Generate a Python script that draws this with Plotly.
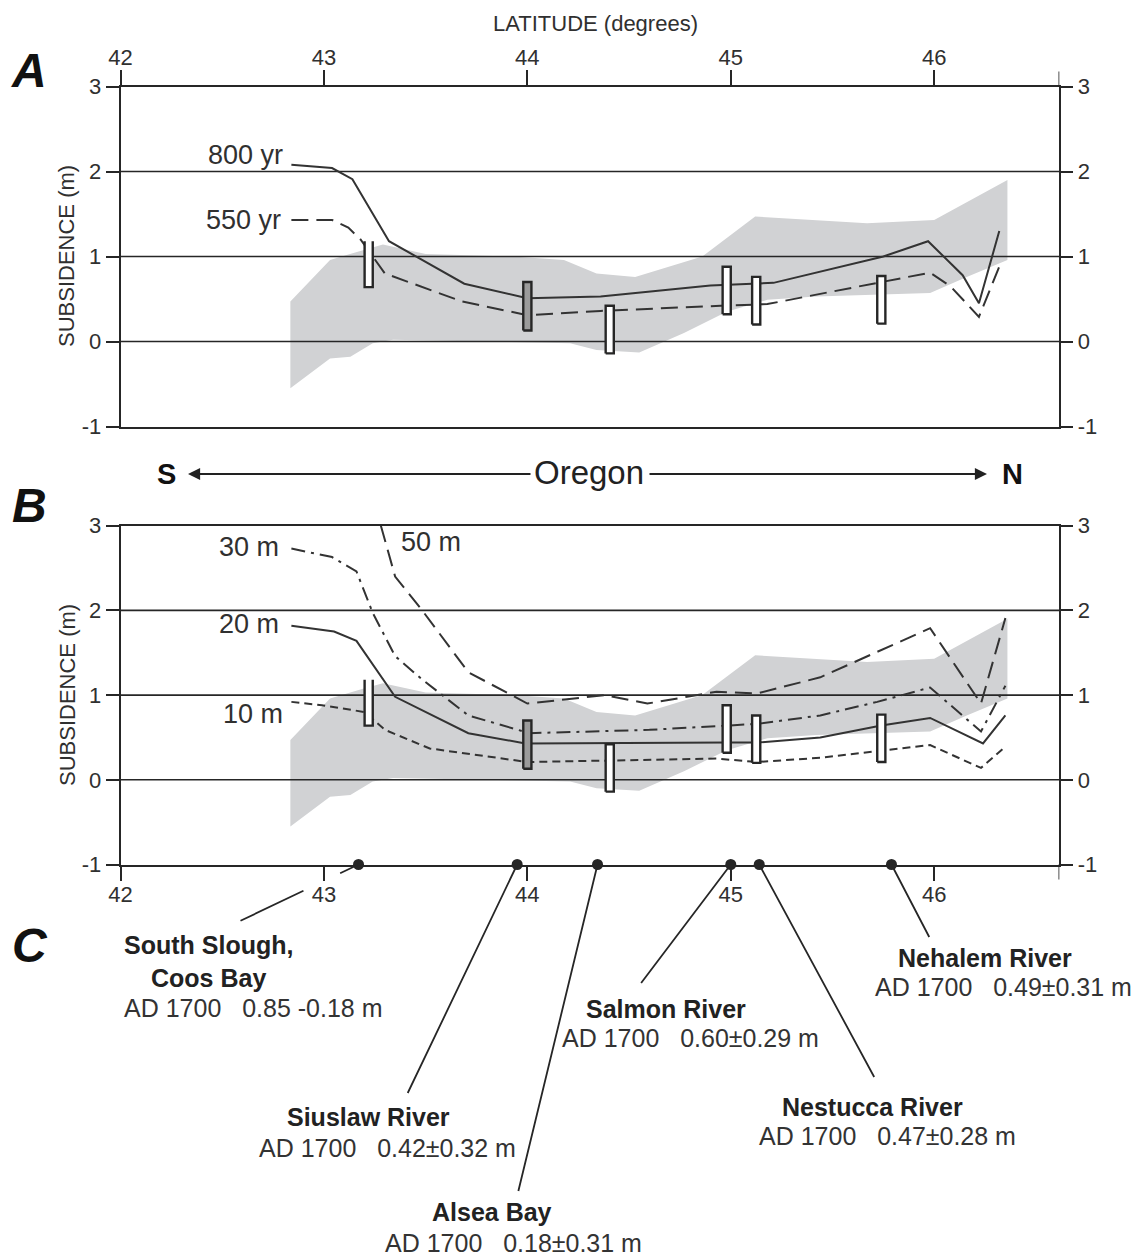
import plotly.graph_objects as go

W, H = 1141, 1260

# ======================= DATA =======================
lat_ticks = [42, 43, 44, 45, 46]
sub_ticks = [-1, 0, 1, 2, 3]
sub_tick_labels = ["-1", "0", "1", "2", "3"]
lat_range = [42, 46.615]
sub_range = [-1, 3]

# grey envelope (same in A and B)
band_upper_lat = [42.835, 43.03, 43.2, 43.29, 43.5, 43.93, 44.18, 44.34, 44.53, 44.86, 45.12, 45.67, 46.0, 46.36]
band_upper_sub = [0.47, 0.96, 1.08, 1.14, 1.03, 1.0, 0.96, 0.8, 0.76, 1.0, 1.47, 1.39, 1.43, 1.9]
band_lower_lat = [42.835, 43.03, 43.13, 43.24, 43.34, 44.21, 44.34, 44.55, 44.77, 44.98, 45.18, 45.42, 45.98, 46.16, 46.36]
band_lower_sub = [-0.55, -0.2, -0.18, -0.02, 0.02, -0.02, -0.1, -0.13, 0.1, 0.35, 0.49, 0.53, 0.57, 0.76, 0.96]

# Panel A curves
lat_800 = [42.84, 43.04, 43.14, 43.32, 43.69, 44.0, 44.36, 44.9, 45.21, 45.75, 45.97, 46.14, 46.22, 46.32]
sub_800 = [2.08, 2.04, 1.91, 1.18, 0.68, 0.51, 0.53, 0.66, 0.69, 1.0, 1.18, 0.78, 0.45, 1.30]
lat_550 = [42.84, 43.04, 43.12, 43.18, 43.3, 43.68, 44.0, 44.36, 44.95, 45.18, 45.98, 46.08, 46.22, 46.33]
sub_550 = [1.43, 1.43, 1.34, 1.2, 0.8, 0.47, 0.31, 0.36, 0.42, 0.44, 0.81, 0.65, 0.29, 0.94]

# Panel B curves
lat_50m = [43.28, 43.35, 43.48, 43.71, 44.0, 44.38, 44.59, 44.93, 45.13, 45.44, 45.98, 46.23, 46.35]
sub_50m = [3.0, 2.4, 2.01, 1.27, 0.9, 1.0, 0.9, 1.04, 1.02, 1.21, 1.79, 0.9, 1.91]
lat_30m = [42.84, 43.04, 43.16, 43.24, 43.35, 43.48, 43.71, 44.01, 44.6, 45.13, 45.44, 45.72, 45.98, 46.23, 46.35]
sub_30m = [2.73, 2.63, 2.46, 1.97, 1.46, 1.19, 0.76, 0.55, 0.59, 0.66, 0.76, 0.92, 1.09, 0.57, 1.11]
lat_20m = [42.84, 43.05, 43.16, 43.35, 43.71, 43.99, 44.98, 45.13, 45.44, 45.74, 45.98, 46.24, 46.35]
sub_20m = [1.82, 1.75, 1.64, 0.98, 0.55, 0.43, 0.44, 0.44, 0.5, 0.64, 0.73, 0.43, 0.76]
lat_10m = [42.84, 42.99, 43.2, 43.3, 43.52, 44.0, 44.93, 45.13, 45.44, 45.73, 45.98, 46.23, 46.35]
sub_10m = [0.92, 0.88, 0.8, 0.59, 0.37, 0.21, 0.25, 0.21, 0.26, 0.34, 0.41, 0.14, 0.39]

# AD 1700 sites
site_names = ["South Slough,\nCoos Bay", "Siuslaw River", "Alsea Bay",
              "Salmon River", "Nestucca River", "Nehalem River"]
site_age = ["AD 1700", "AD 1700", "AD 1700", "AD 1700", "AD 1700", "AD 1700"]
site_value = ["0.85 -0.18 m", "0.42±0.32 m", "0.18±0.31 m",
              "0.60±0.29 m", "0.47±0.28 m", "0.49±0.31 m"]
site_lat = [43.17, 43.95, 44.345, 45.0, 45.14, 45.79]
bar_lat = [43.22, 44.0, 44.405, 44.98, 45.125, 45.74]
bar_low = [0.64, 0.13, -0.14, 0.32, 0.20, 0.21]
bar_high = [1.18, 0.70, 0.42, 0.88, 0.76, 0.77]
bar_open_top = [True, False, False, False, False, False]

# ======================= STYLE / LAYOUT =======================
FONT = "Liberation Sans, Arial, Helvetica, sans-serif"
INK = "#262626"
TXT = "#303030"
BAND = "#d1d2d4"
bar_fill = ["white", "#9b9b9b", "white", "white", "white", "white"]
BAR_HALF = 0.02

def px(x):
    return x / W

def py(y):
    return 1 - y / H

XD = [px(120.5), px(1059.3)]
YA = [py(426.5), py(86.5)]
YB = [py(864.5), py(525.7)]

fig = go.Figure()


def add_panel(xa, ya, curves):
    # envelope
    fig.add_trace(go.Scatter(
        x=band_upper_lat + band_lower_lat[::-1],
        y=band_upper_sub + band_lower_sub[::-1],
        xaxis=xa, yaxis=ya, mode="lines", fill="toself",
        fillcolor=BAND, line=dict(width=0), hoverinfo="skip"))
    # interior horizontal rules
    for v in sub_ticks:
        if sub_range[0] < v < sub_range[1]:
            fig.add_trace(go.Scatter(
                x=lat_range, y=[v, v], xaxis=xa, yaxis=ya, mode="lines",
                line=dict(color=INK, width=1.6), hoverinfo="skip"))
    # model curves
    for lat, sub, dash in curves:
        fig.add_trace(go.Scatter(
            x=lat, y=sub, xaxis=xa, yaxis=ya, mode="lines",
            line=dict(color="#333333", width=2.0, dash=dash),
            hoverinfo="skip"))
    # observation bars
    for lat, lo, hi, op, fc in zip(bar_lat, bar_low, bar_high, bar_open_top, bar_fill):
        if op:
            xs = [lat - BAR_HALF, lat - BAR_HALF, lat + BAR_HALF, lat + BAR_HALF]
            ys = [hi, lo, lo, hi]
        else:
            xs = [lat - BAR_HALF, lat - BAR_HALF, lat + BAR_HALF, lat + BAR_HALF, lat - BAR_HALF]
            ys = [lo, hi, hi, lo, lo]
        fig.add_trace(go.Scatter(
            x=xs, y=ys, xaxis=xa, yaxis=ya, mode="lines", fill="toself",
            fillcolor=fc, line=dict(color=INK, width=2.4), hoverinfo="skip"))


add_panel("x", "y", [(lat_800, sub_800, "solid"), (lat_550, sub_550, "17px,8px")])
add_panel("x2", "y2", [(lat_50m, sub_50m, "17px,8px"),
                       (lat_30m, sub_30m, "14px,6px,3px,6px"),
                       (lat_20m, sub_20m, "solid"),
                       (lat_10m, sub_10m, "8px,5px")])

# site dots on bottom axis of B
fig.add_trace(go.Scatter(
    x=site_lat, y=[sub_range[0]] * len(site_lat), xaxis="x2", yaxis="y2",
    mode="markers", marker=dict(size=11, color=INK), cliponaxis=False,
    hoverinfo="skip"))

# invisible anchors so the right-hand axes are rendered
for xa, ya in [("x", "y3"), ("x2", "y4")]:
    fig.add_trace(go.Scatter(x=[lat_range[0]], y=[sub_range[0]], xaxis=xa, yaxis=ya,
                             mode="markers", marker=dict(opacity=0, size=1),
                             hoverinfo="skip"))

tickfont = dict(family=FONT, size=22, color=TXT)
common_x = dict(range=lat_range, tickvals=lat_ticks, ticks="outside", ticklen=15,
                tickwidth=1.6, tickcolor=INK, showline=True, mirror=True,
                linecolor=INK, linewidth=1.6, showgrid=False, zeroline=False,
                tickfont=tickfont, domain=XD, fixedrange=True)
common_y = dict(range=sub_range, tickvals=sub_ticks, ticktext=sub_tick_labels,
                ticks="outside", ticklen=13,
                tickwidth=1.6, tickcolor=INK, showgrid=False, zeroline=False,
                tickfont=tickfont, fixedrange=True)

fig.update_layout(
    width=W, height=H,
    margin=dict(l=0, r=0, t=0, b=0, autoexpand=False),
    paper_bgcolor="white", plot_bgcolor="white",
    showlegend=False, hovermode=False,
    template="none",
    xaxis=dict(anchor="y", side="top", ticklabelstandoff=-4, **common_x),
    xaxis2=dict(anchor="y2", side="bottom", ticklabelstandoff=-6, **common_x),
    yaxis=dict(domain=YA, anchor="x", side="left", showline=True, mirror=True,
               linecolor=INK, linewidth=1.6, **common_y),
    yaxis3=dict(overlaying="y", anchor="x", side="right", showline=False, **common_y),
    yaxis2=dict(domain=YB, anchor="x2", side="left", showline=True, mirror=True,
                linecolor=INK, linewidth=1.6, **common_y),
    yaxis4=dict(overlaying="y2", anchor="x2", side="right", showline=False, **common_y),
)

# right-border extensions (outside the frame)
fig.add_shape(type="line", xref="x", yref="paper", x0=lat_range[1], x1=lat_range[1],
              y0=YA[1], y1=YA[1] + 15 / H, line=dict(color=INK, width=1.6))
fig.add_shape(type="line", xref="x2", yref="paper", x0=lat_range[1], x1=lat_range[1],
              y0=YB[0], y1=YB[0] - 15 / H, line=dict(color=INK, width=1.6))

ann = []

def text(x, y, t, size, bold=False, italic=False, xanchor="center", angle=0, color=TXT):
    s = t
    if bold:
        s = "<b>" + s + "</b>"
    if italic:
        s = "<i>" + s + "</i>"
    ann.append(dict(x=px(x), y=py(y), xref="paper", yref="paper", text=s,
                    showarrow=False, xanchor=xanchor, yanchor="middle",
                    textangle=angle, font=dict(family=FONT, size=size, color=color)))

# titles and panel letters
text(595, 23, "LATITUDE (degrees)", 22)
text(67, 256, "SUBSIDENCE (m)", 22, angle=-90)
text(67, 695, "SUBSIDENCE (m)", 22, angle=-90)
text(29, 70, "A", 48, bold=True, italic=True, color="#111111")
text(29, 505, "B", 48, bold=True, italic=True, color="#111111")
text(30, 945, "C", 48, bold=True, italic=True, color="#111111")

# S <- Oregon -> N
text(166, 474, "S", 29, bold=True, color="#111111")
text(589, 472, "Oregon", 33, color="#222222")
text(1012, 474, "N", 29, bold=True, color="#111111")
for head, tail in [(188, 532), (987, 648)]:
    ann.append(dict(x=px(head), y=py(474), xref="paper", yref="paper",
                    ax=tail - head, ay=0, axref="pixel", ayref="pixel",
                    text="", showarrow=True, arrowhead=2, arrowsize=1.1,
                    arrowwidth=2.2, arrowcolor="#222222"))

# curve labels (anchored in data space)
curve_labels = [("x", "y", 42.81, 2.19, "800 yr", "right"),
                ("x", "y", 42.80, 1.43, "550 yr", "right"),
                ("x2", "y2", 42.79, 2.75, "30 m", "right"),
                ("x2", "y2", 42.79, 1.84, "20 m", "right"),
                ("x2", "y2", 42.81, 0.78, "10 m", "right"),
                ("x2", "y2", 43.37, 2.81, "50 m", "left")]
for xr, yr, xv, yv, t, anc in curve_labels:
    ann.append(dict(x=xv, y=yv, xref=xr, yref=yr, text=t, showarrow=False,
                    xanchor=anc, yanchor="middle",
                    font=dict(family=FONT, size=27, color=TXT)))

# site labels (panel C)
name_pos = [(208, 945), (368, 1117), (492, 1212), (666, 1009), (872, 1107), (985, 958)]
value_pos = [(253, 1008), (387, 1148), (513, 1243), (690, 1038), (887, 1136), (1003, 987)]
leader_end = [(239, 922), (407, 1095), (518, 1193), (640, 985), (875, 1079), (930, 939)]
NB = "\u00a0"
for i, name in enumerate(site_names):
    nx, ny = name_pos[i]
    for j, line in enumerate(name.split("\n")):
        text(nx, ny + 33 * j, line, 25, bold=True, color="#222222")
    vx, vy = value_pos[i]
    text(vx, vy, site_age[i] + NB * 3 + site_value[i], 25, color="#333333")

# leader lines from site dots to the labels
def dot_px(lat):
    return 120.5 + (lat - 42) * (1059.3 - 120.5) / (lat_range[1] - lat_range[0])

for i, lat in enumerate(site_lat):
    ex, ey = leader_end[i]
    dx, dy = ex - dot_px(lat), ey - 865
    if i == 0:
        L = (dx ** 2 + dy ** 2) ** 0.5
        segs = [(dx * 22 / L, dy * 22 / L, 0), (dx, dy, 61)]
    else:
        segs = [(dx, dy, 0)]
    for ax, ay, so in segs:
        ann.append(dict(x=lat, y=sub_range[0], xref="x2", yref="y2",
                        ax=ax, ay=ay, axref="pixel", ayref="pixel",
                        text="", showarrow=True, arrowhead=0, arrowwidth=1.8,
                        arrowcolor=INK, standoff=so))

fig.update_layout(annotations=ann)
fig.write_html("out.html", config={"displayModeBar": False},
               post_script="document.body.style.margin='0';document.body.style.overflow='hidden';")
